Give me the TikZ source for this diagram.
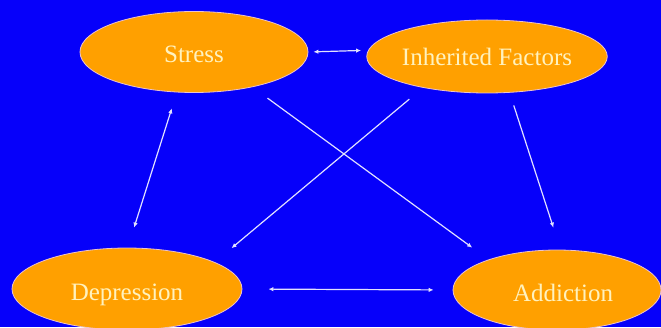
\documentclass[tikz,border=0pt]{standalone}
\usepackage{fontspec}
\setmainfont{Liberation Serif}
\usetikzlibrary{shapes.geometric,arrows.meta}
\definecolor{slideblue}{RGB}{6,0,250}
\definecolor{ovalfill}{RGB}{255,160,0}
\definecolor{ovalline}{RGB}{235,195,205}
\definecolor{ovaltext}{RGB}{255,242,190}
\definecolor{linkcol}{RGB}{225,225,255}
\tikzset{
  factor/.style={ellipse, fill=ovalfill, draw=ovalline, line width=0.8pt, text=ovaltext,
    font=\fontsize{25}{30}\selectfont, inner sep=0pt},
  lowtext/.style={text height=#1, text depth=0pt},
  link/.style={draw=linkcol, line width=1.2pt, -{Latex[length=5pt,width=4.5pt]}},
  dlink/.style={link, {Latex[length=5pt,width=4.5pt]}-{Latex[length=5pt,width=4.5pt]}}
}
\begin{document}
\begin{tikzpicture}[x=1pt,y=1pt]
\useasboundingbox (0,0) rectangle (661,327);
\fill[slideblue] (0,0) rectangle (661,327);
%\draw[help lines, color=gray!30, dashed] (0,0) grid[step=50] (661,327);
\node[factor, lowtext=21pt, minimum width=228pt, minimum height=81pt] (stress) at (194,275) {Stress};
\node[factor, minimum width=216pt, minimum height=73pt] (inherited) at (487,270.5) {Inherited Factors};
\node[factor, lowtext=22pt, minimum width=230pt, minimum height=82pt] (depression) at (127,38) {Depression};
\node[factor, lowtext=22pt, minimum width=208pt, minimum height=80pt] (addiction) at (557,37) {\hspace{12pt}Addiction};
\draw[dlink, shorten <=5pt, shorten >=7pt] (stress.east) -- (inherited.177.6);
\draw[dlink, shorten <=16.7pt, shorten >=21pt] (stress.247) -- (depression.89);
\draw[link, shorten <=18.6pt, shorten >=20.2pt] (stress.-31.5) -- (addiction.156.3);
\draw[link, shorten <=17.7pt, shorten >=21.8pt] (inherited.206.7) -- (depression.17.5);
\draw[link, shorten <=13.4pt, shorten >=23.1pt] (inherited.-58.5) -- (addiction.85.6);
\draw[dlink, shorten <=26pt, shorten >=19pt] (depression.east) -- (addiction.west);
\end{tikzpicture}
\end{document}
